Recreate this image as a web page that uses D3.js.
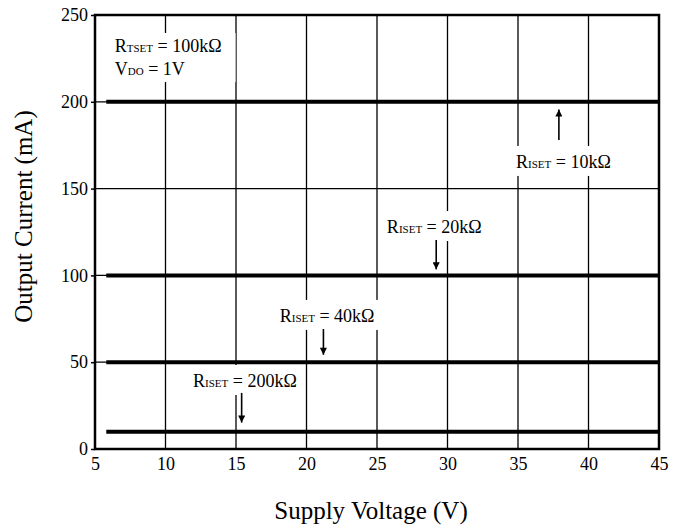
<!DOCTYPE html>
<meta charset="utf-8">
<script src="https://d3js.org/d3.v7.min.js"></script>
<style>
  body { margin: 0; background: #fff; }
  svg text { font-family: "Liberation Serif", "Times New Roman", serif; fill: #000; }
</style>
<div id="chart"></div>
<script>

    // data
    var voltage = [5.8, 45];                     // lines run from ~6 V to 45 V
    var series = ["10k\u03A9", "20k\u03A9", "40k\u03A9", "200k\u03A9"];
    var current = [200, 100, 50, 10];            // mA, flat over the whole range
    var xTicks = [5, 10, 15, 20, 25, 30, 35, 40, 45];
    var yTicks = [0, 50, 100, 150, 200, 250];

    // label anchors in data units: text start (V, mA), arrow x, arrow from/to (mA)
    var labelX = [34.86, 25.7, 18.1, 11.95];
    var labelY = [161.9, 124.4, 73.2, 35.7];
    var arrowX = [37.9, 29.2, 21.2, 15.4];
    var arrowFrom = [178, 120.4, 69.1, 32.3];
    var arrowTo = [195.5, 103.5, 54.3, 15.2];

    var serif = "'Liberation Serif', 'Times New Roman', serif";

    var margin = { top: 15, right: 19, bottom: 81, left: 95 },
        width = 678 - margin.left - margin.right,
        height = 530 - margin.top - margin.bottom;

    var svg = d3.select("#chart")
        .append("svg")
        .attr("width", 678)
        .attr("height", 530)
        .append("g")
        .attr("transform", "translate(" + margin.left + "," + margin.top + ")");

    var x = d3.scaleLinear().domain([5, 45]).range([0, width]);
    var y = d3.scaleLinear().domain([0, 250]).range([height, 0]);

    // grid
    svg.append("g").selectAll("line")
        .data(xTicks.slice(1, -1))
        .enter().append("line")
        .attr("x1", d => x(d)).attr("x2", d => x(d))
        .attr("y1", 0).attr("y2", height)
        .attr("stroke", "#000").attr("stroke-width", 1.3);
    svg.append("g").selectAll("line")
        .data(yTicks.slice(1, -1))
        .enter().append("line")
        .attr("x1", 0).attr("x2", width)
        .attr("y1", d => y(d)).attr("y2", d => y(d))
        .attr("stroke", "#000").attr("stroke-width", 1.3);

    // curves
    var line = d3.line().x(d => x(d[0])).y(d => y(d[1]));
    svg.append("g").selectAll("path")
        .data(current)
        .enter().append("path")
        .attr("d", c => line(voltage.map(v => [v, c])))
        .attr("fill", "none")
        .attr("stroke", "#000")
        .attr("stroke-width", 4);

    // axes
    var yAxis = svg.append("g")
        .call(d3.axisLeft(y).tickValues(yTicks).tickSize(4).tickSizeOuter(0).tickPadding(3));
    var xAxis = svg.append("g")
        .attr("transform", "translate(0," + height + ")")
        .call(d3.axisBottom(x).tickValues(xTicks).tickSize(0).tickPadding(8));
    [xAxis, yAxis].forEach(function (a) {
        a.attr("font-family", serif).attr("font-size", 18);
        a.select(".domain").remove();
        a.selectAll("line").attr("stroke", "#000").attr("stroke-width", 1.5);
        a.selectAll("text").attr("fill", "#000");
    });

    // frame
    svg.append("rect")
        .attr("width", width).attr("height", height)
        .attr("fill", "none").attr("stroke", "#000").attr("stroke-width", 2.5);

    // axis titles
    svg.append("text")
        .attr("x", x(25) - 6).attr("y", height + 70)
        .attr("text-anchor", "middle")
        .attr("font-family", serif)
        .attr("font-size", 25)
        .text("Supply Voltage (V)");
    svg.append("text")
        .attr("transform", "translate(" + (32 - margin.left) + "," + (216.5 - margin.top) + ")rotate(-90)")
        .attr("text-anchor", "middle")
        .attr("font-family", serif)
        .attr("font-size", 25)
        .text("Output Current (mA)");

    // label: big letter, small subscript caps, rest
    function label(g, px, py, big, small, rest) {
        var t = g.append("text").attr("x", px).attr("y", py)
            .attr("font-family", serif).attr("font-size", 18);
        t.append("tspan").text(big);
        t.append("tspan").attr("font-size", 11).text(small);
        t.append("tspan").text(" = " + rest);
        return t;
    }

    function whiteBox(g, node, padX, padTop, padBottom) {
        var b = node.getBBox();
        g.insert("rect", ":first-child")
            .attr("x", b.x - padX).attr("y", b.y - padTop)
            .attr("width", b.width + 2 * padX).attr("height", b.height + padTop + padBottom)
            .attr("fill", "#fff");
    }

    // conditions box
    var cond = svg.append("g");
    label(cond, x(6.4), y(228.7), "R", "TSET", "100k\u03A9");
    label(cond, x(6.4), y(215.4), "V", "DO", "1V");
    var cb = cond.node().getBBox();
    cond.insert("rect", ":first-child")
        .attr("x", cb.x - 14).attr("y", cb.y - 3)
        .attr("width", cb.width + 28).attr("height", cb.height + 6)
        .attr("fill", "#fff");

    // arrow head
    svg.append("defs").append("marker")
        .attr("id", "head")
        .attr("viewBox", "0 0 10 10")
        .attr("refX", 10).attr("refY", 5)
        .attr("markerWidth", 11).attr("markerHeight", 7)
        .attr("markerUnits", "userSpaceOnUse")
        .attr("orient", "auto")
        .append("path").attr("d", "M0,0L10,5L0,10z").attr("fill", "#000");

    series.forEach(function (s, i) {
        var g = svg.append("g");
        var t = label(g, x(labelX[i]), y(labelY[i]), "R", "ISET", s);
        whiteBox(g, t.node(), 5, 6, 4);
        g.append("line")
            .attr("x1", x(arrowX[i])).attr("x2", x(arrowX[i]))
            .attr("y1", y(arrowFrom[i])).attr("y2", y(arrowTo[i]))
            .attr("stroke", "#000").attr("stroke-width", 1.6)
            .attr("marker-end", "url(#head)");
    });

</script>
